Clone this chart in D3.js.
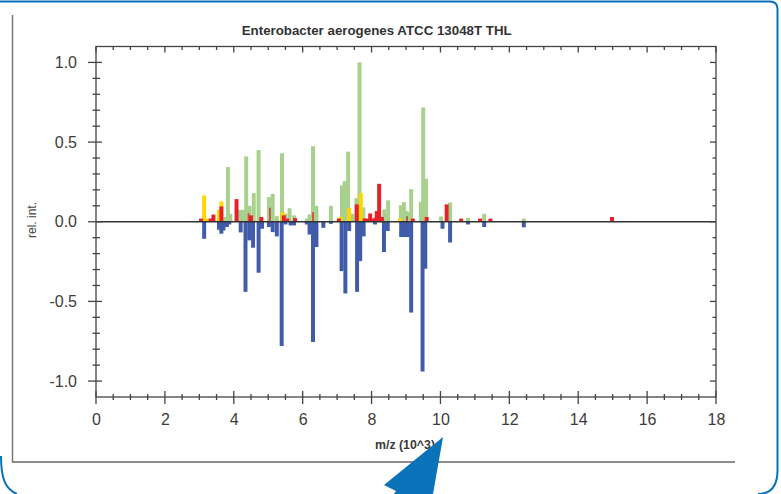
<!DOCTYPE html>
<meta charset="utf-8">
<style>
  body { margin: 0; background: #fff; }
  svg { display: block; font-family: "Liberation Sans", Arial, sans-serif; }
  .frame line, .frame rect { stroke: #444; stroke-width: 1.3px; fill: none; }
  .tick-label { fill: #3c3c3c; font-size: 16px; }
</style>
<svg width="781" height="494"></svg>
<script src="https://cdnjs.cloudflare.com/ajax/libs/d3/7.8.5/d3.min.js"></script>
<script>

  // peak lists, m/z in 10^3, relative intensity
  var greenMz = [3.74, 3.83, 3.9, 4.18, 4.27, 4.36, 4.46, 4.58, 4.72, 5.02, 5.13, 5.25, 5.4, 5.5, 5.62, 5.75,
    6.12, 6.2, 6.3, 6.4, 6.82, 7.14, 7.22, 7.32, 7.45, 7.56, 7.65, 7.76, 8.1, 8.37, 8.48,
    8.85, 8.94, 9.01, 9.07, 9.15, 9.43, 9.5, 9.58, 10.02, 10.28, 10.8, 11.27, 12.42];
  var greenInt = [0.03, 0.343, 0.05, 0.075, 0.075, 0.41, 0.10, 0.18, 0.45, 0.155, 0.175, 0.035, 0.43, 0.05, 0.085, 0.04,
    0.02, 0.046, 0.474, 0.1, 0.10, 0.228, 0.255, 0.44, 0.05, 0.148, 1.0, 0.09, 0.03, 0.077, 0.134,
    0.104, 0.123, 0.067, 0.06, 0.205, 0.125, 0.717, 0.27, 0.033, 0.121, 0.025, 0.05, 0.02];

  var yellowMz = [3.14, 3.22, 3.57, 3.64, 5.42, 7.1, 7.35, 7.69, 8.83];
  var yellowInt = [0.165, 0.02, 0.075, 0.127, 0.06, 0.03, 0.086, 0.18, 0.02];

  var redMz = [3.05, 3.33, 3.41, 3.64, 4.08, 4.5, 4.8, 5.45, 5.55, 5.78, 7.05, 7.57, 7.8, 7.88, 7.96,
    8.05, 8.15, 8.22, 8.3, 9.2, 9.6, 10.18, 10.6, 11.15, 11.45, 14.98];
  var redInt = [0.02, 0.02, 0.045, 0.096, 0.142, 0.04, 0.03, 0.04, 0.02, 0.023, 0.02, 0.109, 0.02, 0.02, 0.052,
    0.02, 0.067, 0.238, 0.03, 0.02, 0.03, 0.109, 0.02, 0.02, 0.02, 0.03];

  var markMz = [4.43, 5.05, 6.3, 9.03];
  var markInt = [0.054, 0.088, 0.06, 0.035];

  var blueMz = [3.14, 3.57, 3.64, 3.7, 3.8, 3.87, 4.2, 4.34, 4.45, 4.56, 4.72, 4.82, 5.02, 5.13, 5.25, 5.39,
    5.5, 5.65, 5.75, 6.12, 6.2, 6.3, 6.4, 6.6, 6.82, 7.13, 7.24, 7.35, 7.58, 7.67, 7.77, 8.1,
    8.36, 8.47, 8.86, 8.95, 9.05, 9.15, 9.48, 9.56, 10.06, 10.28, 10.8, 11.27, 12.42];
  var blueInt = [-0.107, -0.05, -0.075, -0.055, -0.033, -0.017, -0.067, -0.44, -0.117, -0.163, -0.32, -0.044, -0.033, -0.065, -0.092, -0.78,
    -0.017, -0.023, -0.023, -0.017, -0.08, -0.755, -0.159, -0.038, -0.013, -0.31, -0.45, -0.058, -0.44, -0.247, -0.092, -0.017,
    -0.19, -0.058, -0.096, -0.096, -0.096, -0.57, -0.94, -0.295, -0.044, -0.13, -0.017, -0.033, -0.035];

  var xMajor = [0, 2, 4, 6, 8, 10, 12, 14, 16, 18];
  var yMajor = [-1.0, -0.5, 0.0, 0.5, 1.0];

  var svg = d3.select("svg");

  var x = d3.scaleLinear().domain([0, 18]).range([96, 716]);
  var y = d3.scaleLinear().domain([-1.1, 1.1]).range([397, 46.5]);
  var barW = x(0.115) - x(0);

  // page decoration
  svg.append("path")
    .attr("d", "M0,1.5 H770 Q777.5,1.5 777.5,9 V470 Q777.5,494 758,494")
    .attr("fill", "none").attr("stroke", "#0a72b8").attr("stroke-width", 2);
  svg.append("path")
    .attr("d", "M1,456 C1,478 5,489 17,494")
    .attr("fill", "none").attr("stroke", "#0a72b8").attr("stroke-width", 2);
  svg.append("line").attr("x1", 12.5).attr("x2", 12.5).attr("y1", 15).attr("y2", 462)
    .attr("stroke", "#777").attr("stroke-width", 1.5);
  svg.append("line").attr("x1", 12).attr("x2", 735).attr("y1", 462).attr("y2", 462)
    .attr("stroke", "#666").attr("stroke-width", 1.5);

  function drawBars(cls, mz, vals, color, w, opacity) {
    svg.append("g").attr("class", cls)
      .selectAll("rect")
      .data(d3.zip(mz, vals))
      .enter().append("rect")
      .attr("x", function (d) { return x(d[0]) - w / 2; })
      .attr("width", w)
      .attr("y", function (d) { return Math.min(y(d[1]), y(0)); })
      .attr("height", function (d) { return Math.abs(y(d[1]) - y(0)); })
      .attr("fill", color)
      .attr("fill-opacity", opacity);
  }

  drawBars("green", greenMz, greenInt, "#a9d18e", barW, 1);
  drawBars("yellow", yellowMz, yellowInt, "#ffd600", barW, 1);
  drawBars("red", redMz, redInt, "#e8202a", barW, 1);
  drawBars("mark", markMz, markInt, "#d8342c", barW * 0.45, 0.85);
  drawBars("blue", blueMz, blueInt, "#3f5ba9", barW, 1);

  // zero line
  svg.append("line")
    .attr("x1", x(0)).attr("x2", x(18))
    .attr("y1", y(0)).attr("y2", y(0))
    .attr("stroke", "#333").attr("stroke-width", 1.4);

  // frame
  var frame = svg.append("g").attr("class", "frame");
  frame.append("rect")
    .attr("x", x(0)).attr("y", y(1.1))
    .attr("width", x(18) - x(0)).attr("height", y(-1.1) - y(1.1));

  var xMinor = d3.range(0, 37).map(function (i) { return i / 2; });
  var yMinor = d3.range(-10, 11).map(function (i) { return i / 10; });

  function isMajorX(v) { return v % 2 === 0; }
  function isMajorY(v) { return Math.abs(v * 2 - Math.round(v * 2)) < 1e-6; }

  // bottom ticks cross the axis
  frame.selectAll(".xb").data(xMinor).enter().append("line")
    .attr("x1", x).attr("x2", x)
    .attr("y1", function (d) { return y(-1.1) - (isMajorX(d) ? 6 : 3); })
    .attr("y2", function (d) { return y(-1.1) + (isMajorX(d) ? 7 : 3); });
  // top ticks point inward
  frame.selectAll(".xt").data(xMinor).enter().append("line")
    .attr("x1", x).attr("x2", x)
    .attr("y1", y(1.1))
    .attr("y2", function (d) { return y(1.1) + (isMajorX(d) ? 6 : 3.5); });
  // left ticks cross
  frame.selectAll(".yl").data(yMinor).enter().append("line")
    .attr("y1", y).attr("y2", y)
    .attr("x1", function (d) { return x(0) - (isMajorY(d) ? 8 : 3.5); })
    .attr("x2", function (d) { return x(0) + (isMajorY(d) ? 6 : 4); });
  // right ticks point inward
  frame.selectAll(".yr").data(yMinor).enter().append("line")
    .attr("y1", y).attr("y2", y)
    .attr("x1", x(18))
    .attr("x2", function (d) { return x(18) - (isMajorY(d) ? 6 : 3.5); });

  // tick labels via axes
  var xAxis = svg.append("g")
    .attr("transform", "translate(0," + y(-1.1) + ")")
    .call(d3.axisBottom(x).tickValues(xMajor).tickSize(0).tickPadding(17).tickFormat(d3.format("d")));
  var yAxis = svg.append("g")
    .attr("transform", "translate(" + x(0) + ",0)")
    .call(d3.axisLeft(y).tickValues(yMajor).tickSize(0).tickPadding(19)
      .tickFormat(function (d) { return d.toFixed(1); }));
  [xAxis, yAxis].forEach(function (a) {
    a.select(".domain").remove();
    a.selectAll("text").attr("class", "tick-label").attr("font-family", null).attr("font-size", null).attr("fill", null);
  });

  // titles
  svg.append("text")
    .attr("x", 376.7).attr("y", 35)
    .attr("text-anchor", "middle")
    .attr("font-size", 13).attr("font-weight", "bold").attr("fill", "#333")
    .attr("textLength", 270).attr("lengthAdjust", "spacingAndGlyphs")
    .text("Enterobacter aerogenes ATCC 13048T THL");

  svg.append("text")
    .attr("x", 405).attr("y", 449)
    .attr("text-anchor", "middle")
    .attr("font-size", 12).attr("font-weight", "bold").attr("fill", "#3a3a3a")
    .attr("textLength", 60).attr("lengthAdjust", "spacingAndGlyphs")
    .text("m/z (10^3)");

  svg.append("text")
    .attr("transform", "translate(36,220) rotate(-90)")
    .attr("text-anchor", "middle")
    .attr("font-size", 12).attr("fill", "#444")
    .text("rel. int.");

  // pointer arrow
  svg.append("path")
    .attr("d", "M443,437 L384,485 L396,491 L394,494 L433,494 Z")
    .attr("fill", "#0a72b8");

</script>
